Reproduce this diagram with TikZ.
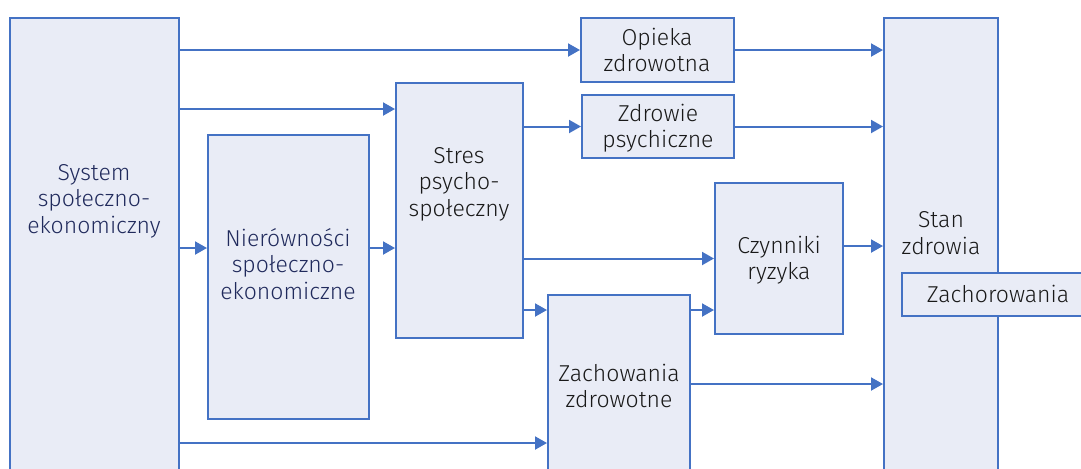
\documentclass[tikz,border=0pt]{standalone}
\usepackage{fontspec}
\setmainfont{Fira Sans Light}
\usepackage{tikz}
\usetikzlibrary{arrows.meta, positioning, fit}
\definecolor{blu}{RGB}{68,114,196}
\definecolor{blufill}{RGB}{233,236,246}
\definecolor{navy}{RGB}{32,42,92}
\definecolor{ink}{RGB}{25,25,25}

\begin{document}
\begin{tikzpicture}[
  x=0.5pt, y=-0.5pt,
  box/.style={draw=blu, fill=blufill, line width=1pt, inner sep=0pt},
  lbl/.style={align=center, text=ink, inner sep=0pt,
              font=\fontsize{11.5}{13.3}\selectfont},
  every edge/.style={draw=blu, line width=1pt, -{Triangle[length=6pt, width=6.5pt]}},
]
\useasboundingbox (0,0) rectangle (1081,468);
\clip (0,0) rectangle (1081,468);

\node[box, fit={(10,18) (179,480)}]    (sys)   {};
\node[box, fit={(208,135) (369,419)}]  (nier)  {};
\node[box, fit={(396,83) (523,338)}]   (stres) {};
\node[box, fit={(581,18) (734,82)}]    (opk)   {};
\node[box, fit={(582,95) (734,158)}]   (zdr)   {};
\node[box, fit={(715,183) (843,334)}]  (czy)   {};
\node[box, fit={(548,295) (690,480)}]  (zach)  {};
\node[box, fit={(884,18) (998,480)}]   (stan)  {};
\node[box, fit={(902,273) (1095,316)}] (chor)  {};

\node[lbl, text=navy] (sysT)  at (94,201)  {System\\ społeczno-\\ ekonomiczny};
\node[lbl, text=navy] (nierT) at (288,264) {Nierówności\\ społeczno-\\ ekonomiczne};
\node[lbl] (stresT) at (459,184) {Stres\\ psycho-\\ społeczny};
\node[lbl] (opkT)   at (657,50)  {Opieka\\ zdrowotna};
\node[lbl] (zdrT)   at (658,128) {Zdrowie\\ psychiczne};
\node[lbl] (czyT)   at (779,260) {Czynniki\\ ryzyka};
\node[lbl] (zachT)  at (619,386) {Zachowania\\ zdrowotne};
\node[lbl] (stanT)  at (941,233) {Stan\\ zdrowia};
\node[lbl] (chorT)  at (998,294) {Zachorowania};

\coordinate (toStres) at (0,109);
\coordinate (toNier)  at (0,248);
\coordinate (viaZach) at (0,310);
\coordinate (toZach)  at (0,443);
\coordinate (czyOut)  at (0,246);
\coordinate (zachOut) at (0,384);

\path (sys.east |- opk.west)  edge (opk.west);
\path (sys.east |- toStres)   edge (stres.west |- toStres);
\path (sys.east |- toNier)    edge (nier.west |- toNier);
\path (nier.east |- toNier)   edge (stres.west |- toNier);
\path (sys.east |- toZach)    edge (zach.west |- toZach);
\path (stres.east |- zdr.west) edge (zdr.west);
\path (stres.east |- czy.west) edge (czy.west);
\path (stres.east |- viaZach) edge (zach.west |- viaZach);
\path (zach.east |- viaZach)  edge (czy.west |- viaZach);
\path (opk.east)  edge (stan.west |- opk.east);
\path (zdr.east)  edge (stan.west |- zdr.east);
\path (czy.east |- czyOut)    edge (stan.west |- czyOut);
\path (zach.east |- zachOut)  edge (stan.west |- zachOut);
\end{tikzpicture}
\end{document}
